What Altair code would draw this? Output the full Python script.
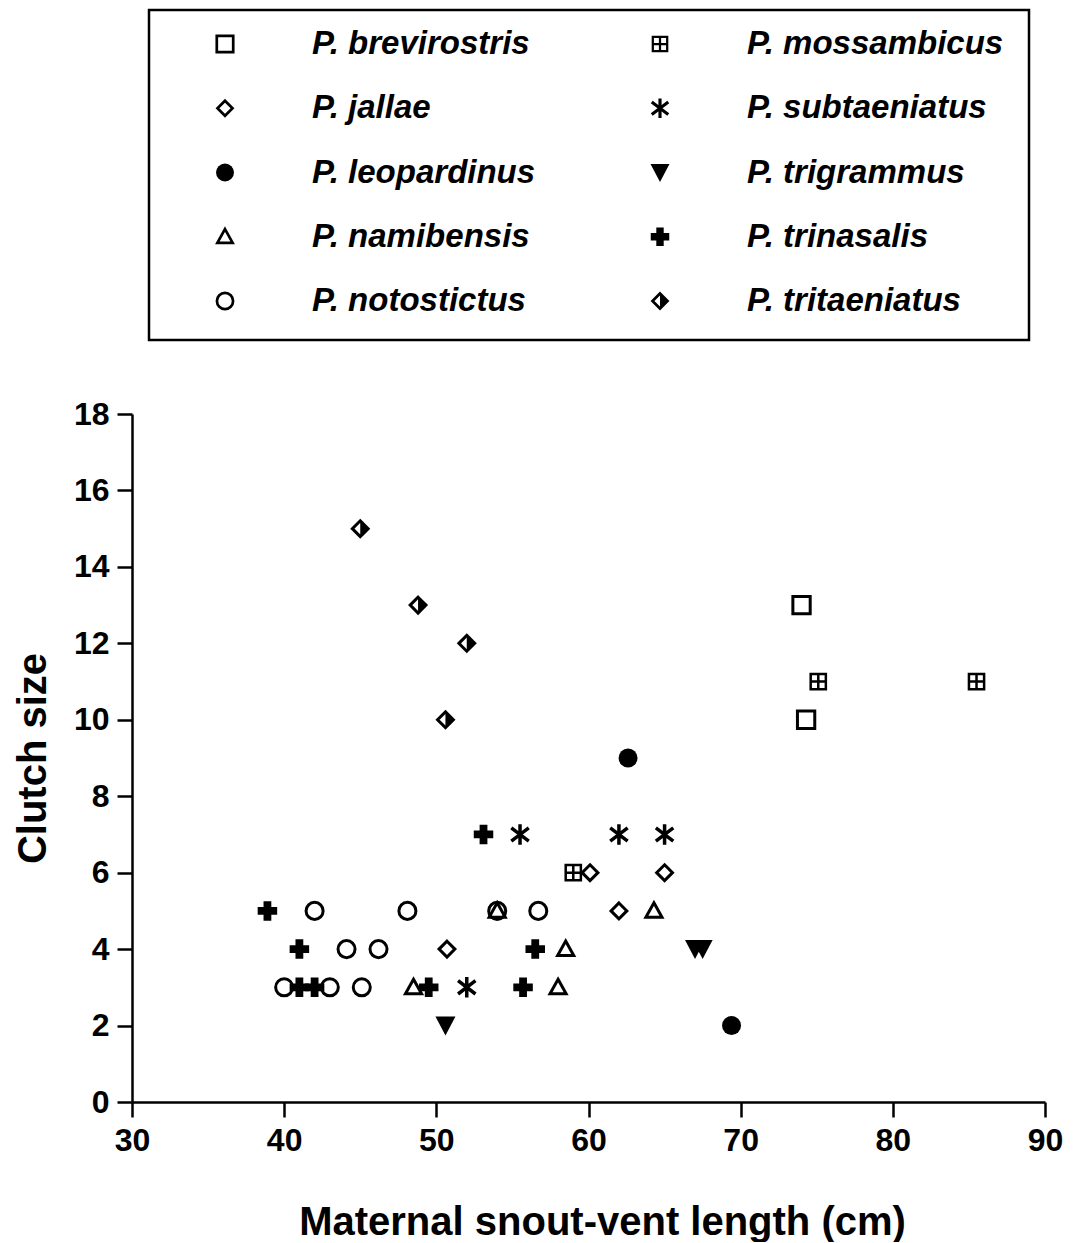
import altair as alt
import pandas as pd

# ---------------- data ----------------
species = ["P. brevirostris", "P. jallae", "P. leopardinus", "P. namibensis", "P. notostictus",
           "P. mossambicus", "P. subtaeniatus", "P. trigrammus", "P. trinasalis", "P. tritaeniatus"]

brevirostris_x = [74.0, 74.3]
brevirostris_y = [13, 10]
mossambicus_x = [75.1, 85.5, 59.0]
mossambicus_y = [11, 11, 6]
jallae_x = [60.1, 65.0, 62.0, 50.7]
jallae_y = [6, 6, 5, 4]
leopardinus_x = [62.6, 69.4]
leopardinus_y = [9, 2]
namibensis_x = [64.3, 58.5, 58.0, 48.5, 54.0]
namibensis_y = [5, 4, 3, 3, 5]
notostictus_x = [40.0, 43.0, 45.1, 42.0, 44.1, 46.2, 48.1, 54.0, 56.7]
notostictus_y = [3, 3, 3, 5, 4, 4, 5, 5, 5]
trinasalis_x = [38.9, 41.0, 41.0, 42.0, 53.1, 49.5, 56.5, 55.7]
trinasalis_y = [5, 4, 3, 3, 7, 3, 4, 3]
subtaeniatus_x = [55.5, 62.0, 65.0, 52.0]
subtaeniatus_y = [7, 7, 7, 3]
trigrammus_x = [50.6, 67.0, 67.5]
trigrammus_y = [2, 4, 4]
tritaeniatus_x = [45.0, 48.8, 52.0, 50.6]
tritaeniatus_y = [15, 13, 12, 10]

x_ticks = [30, 40, 50, 60, 70, 80, 90]
y_ticks = [0, 2, 4, 6, 8, 10, 12, 14, 16, 18]

series = {
    "P. brevirostris": (brevirostris_x, brevirostris_y),
    "P. jallae": (jallae_x, jallae_y),
    "P. leopardinus": (leopardinus_x, leopardinus_y),
    "P. namibensis": (namibensis_x, namibensis_y),
    "P. notostictus": (notostictus_x, notostictus_y),
    "P. mossambicus": (mossambicus_x, mossambicus_y),
    "P. subtaeniatus": (subtaeniatus_x, subtaeniatus_y),
    "P. trigrammus": (trigrammus_x, trigrammus_y),
    "P. trinasalis": (trinasalis_x, trinasalis_y),
    "P. tritaeniatus": (tritaeniatus_x, tritaeniatus_y),
}

rows = []
for sp, (xs, ys) in series.items():
    for xv, yv in zip(xs, ys):
        rows.append({"species": sp, "svl": xv, "clutch": yv})
df = pd.DataFrame(rows)

leg = pd.DataFrame({"species": species,
                    "col": [i // 5 for i in range(len(species))],
                    "row": [i % 5 for i in range(len(species))]})

# ---------------- marker styles ----------------
SQUARE = "M-1,-1H1V1H-1Z"
SQUARE_CROSS = "M-1,-1H1V1H-1ZM0,-1V1M-1,0H1"
DIAMOND = "M0,-1L1,0L0,1L-1,0Z"
HALF_DIAMOND = "M0,-1L1,0L0,1Z"
TRI_UP = "M0,-1L1,0.8L-1,0.8Z"
TRI_DOWN = "M-1,-0.9L1,-0.9L0,1Z"
ASTERISK = "M0,-1V1M-0.85,-0.65L0.85,0.65M-0.85,0.65L0.85,-0.65"

# (shape, filled, size, strokeWidth)
STYLE = {
    "P. brevirostris": [(SQUARE, False, 300, 3)],
    "P. jallae": [(DIAMOND, False, 250, 3)],
    "P. leopardinus": [("circle", True, 360, 0)],
    "P. namibensis": [(TRI_UP, False, 260, 3)],
    "P. notostictus": [("circle", False, 290, 3)],
    "P. mossambicus": [(SQUARE_CROSS, False, 230, 2.5)],
    "P. subtaeniatus": [(ASTERISK, False, 420, 3.5)],
    "P. trigrammus": [(TRI_DOWN, True, 400, 0)],
    "P. trinasalis": [("cross", True, 380, 0)],
    "P. tritaeniatus": [(DIAMOND, False, 250, 3), (HALF_DIAMOND, True, 250, 0)],
}

FONT = "Liberation Sans"


def symbol_layers(base, xenc, yenc, scale_factor=1.0):
    layers = []
    for sp in species:
        for shape, filled, size, sw in STYLE[sp]:
            kw = dict(shape=shape, filled=filled, size=size * scale_factor, opacity=1)
            if filled:
                kw.update(color="black", strokeWidth=0)
            else:
                kw.update(color="black", strokeWidth=sw * (0.9 if scale_factor < 1 else 1))
            layers.append(
                base.transform_filter(alt.datum.species == sp)
                .mark_point(**kw)
                .encode(x=xenc, y=yenc)
            )
    return layers


# ---------------- legend panel ----------------
leg_base = alt.Chart(leg)
lx = alt.X("col:Q", scale=alt.Scale(domain=[0, 1], range=[93, 528]), axis=None)
ly = alt.Y("row:Q", scale=alt.Scale(domain=[0, 4], range=[34, 291]), axis=None)

box = alt.Chart(pd.DataFrame({"a": [0]})).mark_rect(
    fill="white", stroke="black", strokeWidth=2.5
).encode(x=alt.value(17), x2=alt.value(897), y=alt.value(0), y2=alt.value(330))

leg_text = leg_base.mark_text(
    align="left", baseline="middle", dx=87, font=FONT, fontSize=33,
    fontStyle="italic", fontWeight="bold", color="black"
).encode(x=lx, y=ly, text="species:N")

legend_panel = alt.layer(
    box, *symbol_layers(leg_base, lx, ly, scale_factor=0.9), leg_text
).properties(width=913, height=330)

# ---------------- main panel ----------------
base = alt.Chart(df)
mx = alt.X("svl:Q", scale=alt.Scale(domain=[30, 90], nice=False, zero=False),
           axis=alt.Axis(values=x_ticks, title="Maternal snout-vent length (cm)",
                         titlePadding=46, titleX=470))
my = alt.Y("clutch:Q", scale=alt.Scale(domain=[0, 18], nice=False),
           axis=alt.Axis(values=y_ticks, title="Clutch size", titlePadding=20))

main_panel = alt.layer(*symbol_layers(base, mx, my)).properties(width=913, height=688)

chart = alt.vconcat(legend_panel, main_panel, spacing=56).properties(
    padding={"left": 5, "top": 0, "right": 5, "bottom": 0}
).configure_view(stroke=None).configure_axis(
    grid=False,
    domainColor="black", domainWidth=2.5,
    tickColor="black", tickWidth=2.5, tickSize=15,
    labelFont=FONT, labelFontSize=32, labelFontWeight="bold", labelColor="black",
    labelPadding=8, labelFlush=False,
    titleFont=FONT, titleFontSize=40, titleFontWeight="bold", titleColor="black",
)

chart.save("out.html", embed_options={"renderer": "svg", "actions": False})
